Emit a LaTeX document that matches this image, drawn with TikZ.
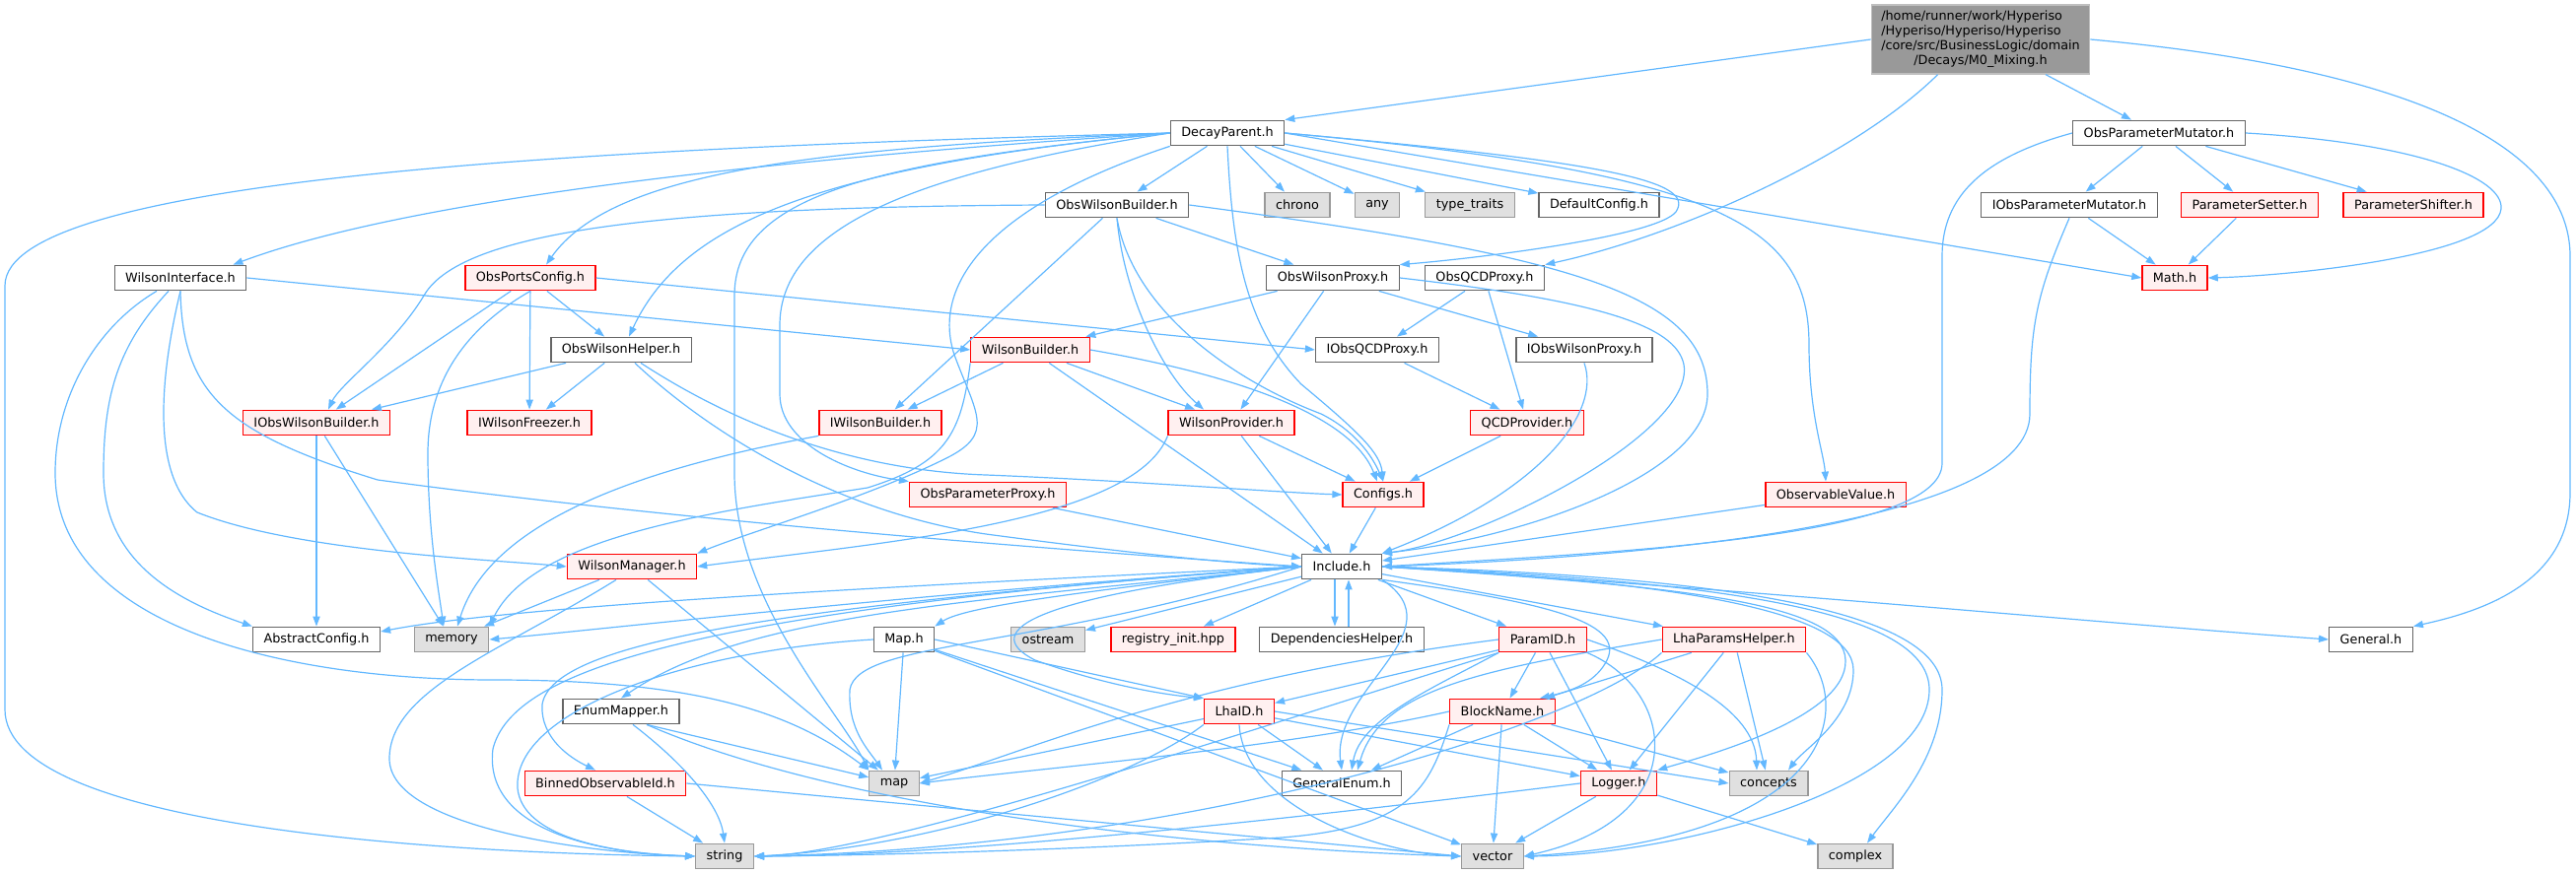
\documentclass[tikz,border=0pt]{standalone}
\usepackage{fontspec}
\setmainfont{DejaVu Sans}
\usetikzlibrary{arrows.meta}
\definecolor{incline}{HTML}{63B8FF}
\definecolor{hdrline}{HTML}{666666}
\definecolor{redfill}{HTML}{FFF0F0}
\definecolor{sysfill}{HTML}{E0E0E0}
\definecolor{sysline}{HTML}{999999}
\definecolor{mainfill}{HTML}{999999}
\definecolor{mainline}{HTML}{BFBFBF}

\begin{document}
\begin{tikzpicture}
  [x=0.5pt, y=-0.5pt,
   every node/.style={draw=hdrline, fill=white, rectangle, line width=0.65pt, inner xsep=5.5pt, inner ysep=0pt,
                      minimum height=12.75pt, font=\fontsize{6.4}{7.4}\selectfont},
   redhdr/.style={draw=red, fill=redfill},
   syshdr/.style={draw=sysline, fill=sysfill},
   mainhdr/.style={draw=mainline, fill=mainfill, minimum height=35pt, inner xsep=5pt},
   inc/.style={draw=incline, line width=0.6pt, -{Triangle[length=5pt,width=3.6pt]}}]
  \useasboundingbox (0,0) rectangle (2613,887);

  \node [mainhdr] (main) at (2009,40) {\begin{tabular}{@{}l@{}}/home/runner/work/Hyperiso\\/Hyperiso/Hyperiso/Hyperiso\\/core/src/BusinessLogic/domain\\\multicolumn{1}{@{}c@{}}{/Decays/M0\_Mixing.h}\end{tabular}};
  \node (decay) at (1245,135) {DecayParent.h};
  \node (opmut) at (2190,135) {ObsParameterMutator.h};
  \node (owb) at (1133,208) {ObsWilsonBuilder.h};
  \node [syshdr] (chrono) at (1316,208) {chrono};
  \node [syshdr] (any) at (1397,208) {any};
  \node [syshdr] (typetraits) at (1491,208) {type\_traits};
  \node (defcfg) at (1622,208) {DefaultConfig.h};
  \node (iopm) at (2099,208) {IObsParameterMutator.h};
  \node [redhdr] (psetter) at (2282,208) {ParameterSetter.h};
  \node [redhdr] (pshifter) at (2448,208) {ParameterShifter.h};
  \node (winter) at (183,282) {WilsonInterface.h};
  \node [redhdr] (opc) at (538,282) {ObsPortsConfig.h};
  \node (owp) at (1352,282) {ObsWilsonProxy.h};
  \node (oqp) at (1506,282) {ObsQCDProxy.h};
  \node [redhdr] (math) at (2206,282) {Math.h};
  \node (owh) at (630,355) {ObsWilsonHelper.h};
  \node [redhdr] (wb) at (1045,355) {WilsonBuilder.h};
  \node (ioqp) at (1397,355) {IObsQCDProxy.h};
  \node (iowp) at (1607,355) {IObsWilsonProxy.h};
  \node [redhdr] (iowb) at (321,429) {IObsWilsonBuilder.h};
  \node [redhdr] (iwf) at (537,429) {IWilsonFreezer.h};
  \node [redhdr] (iwb) at (893,429) {IWilsonBuilder.h};
  \node [redhdr] (wprov) at (1249,429) {WilsonProvider.h};
  \node [redhdr] (qcdp) at (1549,429) {QCDProvider.h};
  \node [redhdr] (opp) at (1002,502) {ObsParameterProxy.h};
  \node [redhdr] (configs) at (1403,502) {Configs.h};
  \node [redhdr] (obsval) at (1862,502) {ObservableValue.h};
  \node (include) at (1361,575) {Include.h};
  \node [redhdr] (wman) at (641,575) {WilsonManager.h};
  \node (absc) at (321,649) {AbstractConfig.h};
  \node [syshdr] (memory) at (458,649) {memory};
  \node (maph) at (917,649) {Map.h};
  \node [syshdr] (ostream) at (1063,649) {ostream};
  \node [redhdr] (reginit) at (1190,649) {registry\_init.hpp};
  \node (dephelp) at (1361,649) {DependenciesHelper.h};
  \node [redhdr] (paramid) at (1565,649) {ParamID.h};
  \node [redhdr] (lhaph) at (1759,649) {LhaParamsHelper.h};
  \node (general) at (2405,649) {General.h};
  \node (enummap) at (630,722) {EnumMapper.h};
  \node [redhdr] (lhaid) at (1257,722) {LhaID.h};
  \node [redhdr] (blockname) at (1524,722) {BlockName.h};
  \node [redhdr] (binned) at (614,795) {BinnedObservableId.h};
  \node [syshdr] (map) at (907,795) {map};
  \node (genenum) at (1361,795) {GeneralEnum.h};
  \node [redhdr] (logger) at (1642,795) {Logger.h};
  \node [syshdr] (concepts) at (1794,795) {concepts};
  \node [syshdr] (string) at (735,869) {string};
  \node [syshdr] (vector) at (1514,869) {vector};
  \node [syshdr] (complex) at (1882,869) {complex};

  \draw[inc] (main.west) -- (decay.north east);
  \draw[inc] ([xshift=34pt]main.south west) .. controls (1880,160) and (1700,240) .. (oqp.north east);
  \draw[inc] ([xshift=33pt]main.south) -- ([xshift=-14pt]opmut.north);
  \draw[inc] (main.east) .. controls (2450,70) and (2607,150) .. (2607,260) -- (2607,500) .. controls (2607,590) and (2520,620) .. (general.north east);

  \draw[inc] (decay.west) .. controls (600,150) and (5,180) .. (5,290) -- (5,720) .. controls (5,840) and (450,866) .. (string.west);
  \draw[inc] (decay.west) .. controls (800,160) and (420,200) .. ([xshift=-7pt]winter.north east);
  \draw[inc] (decay.west) .. controls (820,150) and (620,175) .. ([xshift=8pt]opc.north);
  \draw[inc] (decay.west) .. controls (820,170) and (690,230) .. ([xshift=4pt]owh.north);
  \draw[inc] (decay.west) .. controls (880,165) and (745,200) .. (745,300) -- (745,480) .. controls (745,610) and (850,720) .. (map.north west);
  \draw[inc] (decay.west) .. controls (930,175) and (791,230) .. (791,330) -- (791,400) .. controls (791,450) and (860,480) .. (opp.north west);
  \draw[inc] (decay.south west) .. controls (1000,210) and (945,290) .. (968,360) .. controls (990,420) and (1010,440) .. (960,465) .. controls (880,505) and (760,540) .. (wman.north east);
  \draw[inc] (decay) -- (owb);
  \draw[inc] (decay) -- (chrono);
  \draw[inc] (decay) -- (any);
  \draw[inc] (decay) -- (typetraits);
  \draw[inc] (decay) -- (defcfg);
  \draw[inc] (decay.south) .. controls (1250,250) and (1262,330) .. (1320,390) .. controls (1380,440) and (1400,460) .. (configs.north);
  \draw[inc] (decay.east) .. controls (1640,165) and (1720,185) .. (1700,215) .. controls (1680,240) and (1500,262) .. (owp.north east);
  \draw[inc] (decay.east) -- (math.west);
  \draw[inc] (decay.east) .. controls (1750,175) and (1835,230) .. (1835,350) .. controls (1835,420) and (1850,460) .. ([xshift=-5pt]obsval.north);

  \draw[inc] (opmut) -- (iopm);
  \draw[inc] (opmut) -- (psetter);
  \draw[inc] (opmut) -- (pshifter);
  \draw[inc] (opmut.east) .. controls (2450,145) and (2540,180) .. (2537,212) .. controls (2532,260) and (2320,280) .. (math.east);
  \draw[inc] (opmut.west) .. controls (2010,160) and (1970,200) .. (1970,260) -- (1970,470) .. controls (1970,545) and (1650,560) .. (include.east);
  \draw[inc] (iopm) -- (math);
  \draw[inc] (iopm.south) .. controls (2065,300) and (2059,330) .. (2059,420) .. controls (2059,530) and (1680,565) .. (include.east);
  \draw[inc] (psetter) -- (math);

  \draw[inc] (owb) -- (owp);
  \draw[inc] (owb.west) .. controls (700,210) and (470,230) .. (430,300) .. controls (400,350) and (345,390) .. ([xshift=6pt]iowb.north);
  \draw[inc] (owb) -- (iwb);
  \draw[inc] (owb.south) .. controls (1140,300) and (1180,380) .. ([xshift=-14pt]wprov.north);
  \draw[inc] (owb.south) .. controls (1150,320) and (1260,390) .. (1340,420) .. controls (1380,440) and (1395,470) .. (configs.north);
  \draw[inc] (owb.east) .. controls (1600,260) and (1732,300) .. (1732,400) .. controls (1732,480) and (1550,545) .. (include.north east);

  \draw[inc] (winter.east) -- (wb.west);
  \draw[inc] ([xshift=-12pt]winter.south) .. controls (100,330) and (56,400) .. (56,480) .. controls (56,640) and (300,690) .. (500,690) .. controls (700,690) and (800,720) .. (map.north west);
  \draw[inc] ([xshift=-6pt]winter.south) .. controls (120,350) and (105,400) .. (105,480) .. controls (105,570) and (180,610) .. (absc.north west);
  \draw[inc] (winter.south) .. controls (165,370) and (150,480) .. (200,520) .. controls (300,560) and (500,568) .. (wman.west);
  \draw[inc] (winter.south) .. controls (185,400) and (230,440) .. (383,487) .. controls (700,530) and (1100,560) .. (include.west);

  \draw[inc] (opc) -- (owh);
  \draw[inc] (opc) -- (iowb);
  \draw[inc] (opc.south) .. controls (460,340) and (434,400) .. (434,460) .. controls (434,540) and (445,600) .. ([xshift=-4pt]memory.north);
  \draw[inc] (opc) -- (iwf);
  \draw[inc] (opc.east) -- (ioqp.west);

  \draw[inc] (owh) -- (iowb);
  \draw[inc] (owh) -- (iwf);
  \draw[inc] ([xshift=10pt]owh.south) .. controls (760,440) and (880,478) .. (1000,482) .. controls (1150,488) and (1300,500) .. (configs.west);
  \draw[inc] ([xshift=7pt]owh.south) .. controls (720,440) and (850,520) .. (1000,542) .. controls (1150,562) and (1250,572) .. (include.west);

  \draw[inc] (wb) -- (iwb);
  \draw[inc] (wb) -- (wprov);
  \draw[inc] (wb.east) .. controls (1250,380) and (1370,420) .. ([xshift=-3pt]configs.north);
  \draw[inc] (wb) -- (include);
  \draw[inc] (wb.south west) .. controls (975,440) and (960,470) .. (880,495) .. controls (720,520) and (540,545) .. (memory.north east);

  \draw[inc] (owp) -- (wb);
  \draw[inc] (owp) -- (wprov);
  \draw[inc] (owp) -- (iowp);
  \draw[inc] (owp.east) .. controls (1620,305) and (1700,330) .. (1708,370) .. controls (1720,440) and (1500,550) .. (include.north east);
  \draw[inc] (oqp) -- (ioqp);
  \draw[inc] (oqp) -- (qcdp);
  \draw[inc] (ioqp) -- (qcdp);
  \draw[inc] (iowp.south) .. controls (1625,420) and (1560,500) .. (include.north east);
  \draw[inc] (qcdp) -- (configs);
  \draw[inc] (opp) -- (include);
  \draw[inc] (configs) -- (include);
  \draw[inc] (obsval) -- (include);

  \draw[inc] (wprov) -- (configs);
  \draw[inc] (wprov) -- (include);
  \draw[inc] (wprov.south west) .. controls (1150,530) and (900,550) .. (wman.east);

  \draw[inc] (include.west) .. controls (900,595) and (520,615) .. ([yshift=4pt]absc.east);
  \draw[inc] (include.west) .. controls (900,605) and (600,640) .. (memory.east);
  \draw[inc] (include.west) .. controls (1100,600) and (980,615) .. (maph.north east);
  \draw[inc] (include) -- (ostream);
  \draw[inc] (include) -- (reginit);
  \draw[inc] ([xshift=-3.5pt]include.south) -- ([xshift=-3.5pt]dephelp.north);
  \draw[inc] ([xshift=3.5pt]dephelp.north) -- ([xshift=3.5pt]include.south);
  \draw[inc] (include) -- (paramid);
  \draw[inc] (include) -- (lhaph);
  \draw[inc] (include.east) .. controls (1800,600) and (2100,630) .. (general.west);
  \draw[inc] (include.west) .. controls (1000,610) and (760,620) .. (enummap.north);
  \draw[inc] (include.west) .. controls (800,615) and (560,650) .. (550,715) .. controls (548,750) and (580,770) .. ([xshift=-5pt]binned.north);
  \draw[inc] (include.west) .. controls (1050,605) and (990,640) .. (1050,670) .. controls (1120,695) and (1180,705) .. (lhaid.north west);
  \draw[inc] (include.south east) .. controls (1560,610) and (1650,630) .. (1630,670) .. controls (1620,690) and (1600,700) .. ([xshift=-8pt]blockname.north east);
  \draw[inc] (include.south east) .. controls (1480,640) and (1350,700) .. (genenum.north);
  \draw[inc] (include.east) .. controls (1700,595) and (1870,610) .. (1872,670) .. controls (1874,730) and (1720,770) .. (logger.north east);
  \draw[inc] (include.east) .. controls (1700,590) and (1880,620) .. (1880,680) .. controls (1880,730) and (1830,760) .. ([xshift=10pt]concepts.north);
  \draw[inc] (include.east) .. controls (1750,590) and (1957,620) .. (1957,700) .. controls (1957,800) and (1700,868) .. (vector.east);
  \draw[inc] (include.east) .. controls (1750,585) and (1970,620) .. (1970,700) .. controls (1970,770) and (1920,820) .. ([xshift=6pt]complex.north);
  \draw[inc] (include.west) .. controls (1050,660) and (870,650) .. (862,700) .. controls (860,740) and (880,760) .. ([xshift=-6pt]map.north);
  \draw[inc] (include.west) .. controls (700,620) and (520,680) .. (500,760) .. controls (490,840) and (600,866) .. (string.west);

  \draw[inc] (maph) -- (map);
  \draw[inc] (maph.east) -- (lhaid.north west);
  \draw[inc] (maph) -- (genenum);
  \draw[inc] (maph) -- (vector);
  \draw[inc] (maph.west) .. controls (700,660) and (520,720) .. (525,800) .. controls (530,850) and (620,866) .. (string.west);

  \draw[inc] ([xshift=13pt]enummap.south) -- (map);
  \draw[inc] ([xshift=6pt]enummap.south) .. controls (700,780) and (730,820) .. (string.north);
  \draw[inc] ([xshift=13pt]enummap.south) .. controls (850,820) and (1200,860) .. (vector.west);
  \draw[inc] (binned) -- (string);
  \draw[inc] (binned.east) -- (vector.west);

  \draw[inc] (wman) -- (memory);
  \draw[inc] (wman) -- (map);
  \draw[inc] ([xshift=-8pt]wman.south) .. controls (510,660) and (395,700) .. (395,770) .. controls (395,840) and (600,866) .. (string.west);
  \draw[inc] (iowb) -- (absc);
  \draw[inc] (iowb) -- (memory);
  \draw[inc] (iwb.south west) .. controls (680,470) and (500,520) .. ([xshift=3pt]memory.north);

  \draw[inc] (paramid) -- (lhaid);
  \draw[inc] (paramid) -- (blockname);
  \draw[inc] (paramid) -- (logger);
  \draw[inc] (paramid.south west) .. controls (1450,700) and (1380,730) .. ([xshift=5pt]genenum.north);
  \draw[inc] (paramid.south east) .. controls (1700,700) and (1720,830) .. (vector.east);
  \draw[inc] (paramid.east) .. controls (1700,680) and (1780,720) .. ([xshift=-6pt]concepts.north);
  \draw[inc] (paramid.west) .. controls (1200,690) and (1050,760) .. (map.east);
  \draw[inc] (paramid.south west) .. controls (1300,730) and (900,866) .. (string.east);

  \draw[inc] (lhaph) -- (blockname);
  \draw[inc] (lhaph.west) .. controls (1500,680) and (1400,700) .. ([xshift=8pt]genenum.north);
  \draw[inc] (lhaph) -- (logger);
  \draw[inc] (lhaph) -- (concepts);
  \draw[inc] (lhaph.south east) .. controls (1880,720) and (1860,850) .. (vector.east);
  \draw[inc] (lhaph.south west) .. controls (1600,740) and (1200,860) .. (string.east);

  \draw[inc] (lhaid) -- (genenum);
  \draw[inc] (lhaid) -- (logger);
  \draw[inc] (lhaid.east) -- (concepts.west);
  \draw[inc] (lhaid.south) .. controls (1262,820) and (1400,866) .. (vector.west);
  \draw[inc] (lhaid.south west) .. controls (1150,790) and (950,860) .. (string.east);
  \draw[inc] (lhaid) -- (map);

  \draw[inc] (blockname) -- (genenum);
  \draw[inc] (blockname) -- (logger);
  \draw[inc] (blockname) -- (concepts);
  \draw[inc] (blockname) -- (vector);
  \draw[inc] (blockname.south west) .. controls (1450,800) and (1430,840) .. (1300,850) .. controls (1100,862) and (900,868) .. (string.east);
  \draw[inc] (blockname.west) .. controls (1300,760) and (1050,780) .. (map.east);

  \draw[inc] (logger) -- (vector);
  \draw[inc] (logger) -- (complex);
  \draw[inc] (logger.west) .. controls (1400,820) and (1000,868) .. (string.east);
\end{tikzpicture}
\end{document}
